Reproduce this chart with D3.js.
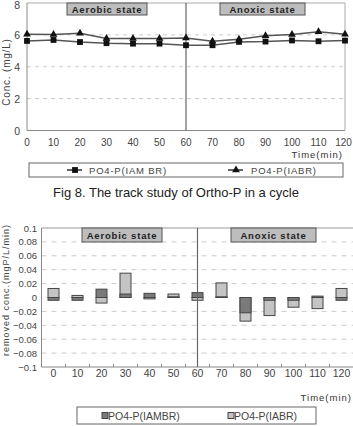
<!DOCTYPE html>
<html>
<head>
<meta charset="utf-8">
<script src="https://cdn.jsdelivr.net/npm/d3@7"></script>
<style>
  body { margin: 0; background: #fff; }
  svg { display: block; font-family: "Liberation Sans", Arial, sans-serif; }
</style>
</head>
<body>
<svg id="chart" width="353" height="426"></svg>
<script>
// sampling times (min)
const times = [0, 10, 20, 30, 40, 50, 60, 70, 80, 90, 100, 110, 120];

// Fig 8 : PO4-P concentration (mg/L)
const iambrConc = [5.62, 5.68, 5.55, 5.48, 5.45, 5.45, 5.35, 5.35, 5.56, 5.58, 5.65, 5.60, 5.64];
const iabrConc  = [6.04, 6.02, 6.10, 5.77, 5.77, 5.77, 5.80, 5.60, 5.73, 5.94, 6.02, 6.19, 6.04];

// lower chart : removed conc. (mgP/L/min)
const iambrRemoved = [-0.004, -0.004, 0.012, 0.005, 0.006, 0.001, 0.007, 0.001, -0.022, -0.004, -0.004, 0.002, -0.004];
const iabrRemoved  = [0.013, 0.003, -0.008, 0.035, -0.002, 0.005, -0.004, 0.021, -0.034, -0.026, -0.014, -0.016, 0.013];

const concTicks = [0, 2, 4, 6, 8];
const removedTicks = [0.1, 0.08, 0.06, 0.04, 0.02, 0, -0.02, -0.04, -0.06, -0.08, -0.1];

const svg = d3.select("#chart");
const axisGrey = "#888";
const textGrey = "#444";

// ---------- top chart ----------
const x1 = d3.scaleLinear().domain([0, 120]).range([27, 345]);
const y1 = d3.scaleLinear().domain([0, 8]).range([130.5, 3]);

const chart1 = svg.append("g");

// dashed grid
chart1.selectAll(".grid1")
	.data(concTicks.filter(d => d > 0 && d < 8))
	.enter().append("line")
	.attr("x1", x1(0)).attr("x2", x1(120))
	.attr("y1", d => y1(d)).attr("y2", d => y1(d))
	.attr("stroke", "#ccc").attr("stroke-dasharray", "4,4");

// frame
chart1.append("line").attr("x1", x1(0)).attr("x2", x1(0)).attr("y1", y1(0)).attr("y2", y1(8)).attr("stroke", axisGrey);
chart1.append("line").attr("x1", x1(0)).attr("x2", x1(120)).attr("y1", y1(0)).attr("y2", y1(0)).attr("stroke", axisGrey);
chart1.append("line").attr("x1", x1(0)).attr("x2", x1(120)).attr("y1", y1(8)).attr("y2", y1(8)).attr("stroke", "#aaa");
chart1.append("line").attr("x1", x1(120)).attr("x2", x1(120)).attr("y1", y1(0)).attr("y2", y1(8)).attr("stroke", "#aaa");
chart1.append("line").attr("x1", x1(60)).attr("x2", x1(60)).attr("y1", y1(0)).attr("y2", y1(8)).attr("stroke", "#666").attr("stroke-width", 1.2);

// y tick labels
chart1.selectAll(".ylab1")
	.data(concTicks)
	.enter().append("text")
	.attr("x", 20).attr("y", d => Math.max(y1(d) + 4, 9))
	.attr("text-anchor", "end")
	.attr("font-size", 10.5).attr("fill", textGrey)
	.text(d => d);

// x tick labels
chart1.selectAll(".xlab1")
	.data(times)
	.enter().append("text")
	.attr("x", d => Math.min(x1(d), 343.5)).attr("y", 146)
	.attr("text-anchor", "middle")
	.attr("font-size", 10).attr("fill", textGrey)
	.text(d => d);

chart1.append("text")
	.attr("x", 343).attr("y", 158)
	.attr("text-anchor", "end")
	.attr("font-size", 9.5).attr("fill", "#333").attr("letter-spacing", 1)
	.text("Time(min)");

chart1.append("text")
	.attr("transform", "translate(10," + 72 + ") rotate(-90)")
	.attr("text-anchor", "middle")
	.attr("font-size", 10).attr("fill", textGrey).attr("letter-spacing", 0.8)
	.text("Conc. (mg/L)");

// lines
const line1 = d3.line().x((d, i) => x1(times[i])).y(d => y1(d));
[iambrConc, iabrConc].forEach(series => {
	chart1.append("path")
		.attr("d", line1(series))
		.attr("fill", "none")
		.attr("stroke", "#555")
		.attr("stroke-width", 1.5);
});

const square = d3.symbol().type(d3.symbolSquare).size(34);
const triangle = d3.symbol().type(d3.symbolTriangle).size(26);

chart1.selectAll(".sq")
	.data(iambrConc)
	.enter().append("path")
	.attr("d", square)
	.attr("transform", (d, i) => "translate(" + x1(times[i]) + "," + y1(d) + ")")
	.attr("fill", "#111");

chart1.selectAll(".tri")
	.data(iabrConc)
	.enter().append("path")
	.attr("d", triangle)
	.attr("transform", (d, i) => "translate(" + x1(times[i]) + "," + y1(d) + ")")
	.attr("fill", "#111");

// state labels
function stateBox(g, x, y, w, h, label) {
	g.append("rect")
		.attr("x", x).attr("y", y).attr("width", w).attr("height", h)
		.attr("fill", "#bdbdbd").attr("stroke", "#555").attr("stroke-width", 1);
	g.append("text")
		.attr("x", x + w / 2).attr("y", y + h / 2 + 3.5)
		.attr("text-anchor", "middle")
		.attr("font-size", 9.5).attr("font-weight", "bold")
		.attr("fill", "#222").attr("letter-spacing", 0.8)
		.text(label);
}
stateBox(chart1, 67, 3, 80, 12, "Aerobic state");
stateBox(chart1, 220, 3, 85, 12, "Anoxic state");

// legend 1
chart1.append("rect")
	.attr("x", 29).attr("y", 163).attr("width", 314).attr("height", 14)
	.attr("fill", "#fff").attr("stroke", "#666");
chart1.append("line").attr("x1", 67).attr("x2", 82).attr("y1", 170).attr("y2", 170).attr("stroke", "#333").attr("stroke-width", 1.5);
chart1.append("path").attr("d", square).attr("transform", "translate(75,170)").attr("fill", "#111");
chart1.append("text").attr("x", 89).attr("y", 173.5)
	.attr("font-size", 9.5).attr("fill", textGrey).attr("letter-spacing", 0.8)
	.text("PO4-P(IAM BR)");
chart1.append("line").attr("x1", 228).attr("x2", 243).attr("y1", 170).attr("y2", 170).attr("stroke", "#333").attr("stroke-width", 1.5);
chart1.append("path").attr("d", triangle).attr("transform", "translate(236,170)").attr("fill", "#111");
chart1.append("text").attr("x", 251).attr("y", 173.5)
	.attr("font-size", 9.5).attr("fill", textGrey).attr("letter-spacing", 0.8)
	.text("PO4-P(IABR)");

// caption
svg.append("text")
	.attr("x", 176).attr("y", 197)
	.attr("text-anchor", "middle")
	.attr("font-size", 13).attr("fill", "#222")
	.text("Fig 8. The track study of Ortho-P in a cycle");

// ---------- bottom chart ----------
const x2 = d3.scaleBand().domain(times).range([41.5, 353.5]);
const y2 = d3.scaleLinear().domain([-0.1, 0.1]).range([367, 228]);
const barW = 11;

const chart2 = svg.append("g");

chart2.selectAll(".grid2")
	.data(removedTicks.filter(d => Math.abs(d) < 0.099 && d !== 0))
	.enter().append("line")
	.attr("x1", x2.range()[0]).attr("x2", 353)
	.attr("y1", d => y2(d)).attr("y2", d => y2(d))
	.attr("stroke", "#ccc").attr("stroke-dasharray", "5,5");

chart2.append("line").attr("x1", 41.5).attr("x2", 41.5).attr("y1", y2(-0.1)).attr("y2", y2(0.1)).attr("stroke", axisGrey);
chart2.append("line").attr("x1", 41.5).attr("x2", 353).attr("y1", y2(0.1)).attr("y2", y2(0.1)).attr("stroke", "#999");
chart2.append("line").attr("x1", 41.5).attr("x2", 353).attr("y1", y2(-0.1)).attr("y2", y2(-0.1)).attr("stroke", axisGrey);

// x ticks at band edges
chart2.selectAll(".xtick2")
	.data(times)
	.enter().append("line")
	.attr("x1", d => x2(d)).attr("x2", d => x2(d))
	.attr("y1", y2(-0.1)).attr("y2", y2(-0.1) - 3)
	.attr("stroke", axisGrey);

chart2.selectAll(".ylab2")
	.data(removedTicks)
	.enter().append("text")
	.attr("x", 37).attr("y", d => y2(d) + 3.5)
	.attr("text-anchor", "end")
	.attr("font-size", 9.5).attr("fill", textGrey)
	.text(d => d3.format("")(d).replace("-", "\u2212"));

chart2.selectAll(".xlab2")
	.data(times)
	.enter().append("text")
	.attr("x", d => x2(d) + x2.bandwidth() / 2).attr("y", 377)
	.attr("text-anchor", "middle")
	.attr("font-size", 10.5).attr("fill", textGrey)
	.text(d => d);

chart2.append("text")
	.attr("x", 352).attr("y", 401)
	.attr("text-anchor", "end")
	.attr("font-size", 9.5).attr("fill", "#333").attr("letter-spacing", 1)
	.text("Time(min)");

chart2.append("text")
	.attr("transform", "translate(8.5," + 290 + ") rotate(-90)")
	.attr("text-anchor", "middle")
	.attr("font-size", 9).attr("fill", textGrey).attr("letter-spacing", 1)
	.text("removed conc.(mgP/L/min)");

// bars: IABR behind, IAMBR in front
function drawBars(series, fill) {
	chart2.selectAll(null)
		.data(series)
		.enter().append("rect")
		.attr("x", (d, i) => x2(times[i]) + (x2.bandwidth() - barW) / 2)
		.attr("width", barW)
		.attr("y", d => y2(Math.max(0, d)))
		.attr("height", d => Math.abs(y2(d) - y2(0)))
		.attr("fill", fill)
		.attr("stroke", "#444")
		.attr("stroke-width", 1);
}
drawBars(iabrRemoved, "#c4c4c4");
drawBars(iambrRemoved, "#7a7a7a");

chart2.append("line")
	.attr("x1", x2(60) + x2.bandwidth() / 2).attr("x2", x2(60) + x2.bandwidth() / 2)
	.attr("y1", y2(-0.1)).attr("y2", y2(0.1))
	.attr("stroke", "#666").attr("stroke-width", 1.2);

stateBox(chart2, 82, 228, 80, 14, "Aerobic state");
stateBox(chart2, 231, 228, 85, 14, "Anoxic state");

// legend 2
chart2.append("rect")
	.attr("x", 77).attr("y", 407).attr("width", 239).attr("height", 17)
	.attr("fill", "#fff").attr("stroke", "#666");
chart2.append("rect").attr("x", 102).attr("y", 412.5).attr("width", 6).attr("height", 6)
	.attr("fill", "#7a7a7a").attr("stroke", "#444");
chart2.append("text").attr("x", 108).attr("y", 420)
	.attr("font-size", 10.5).attr("fill", textGrey)
	.text("PO4-P(IAMBR)");
chart2.append("rect").attr("x", 228).attr("y", 412.5).attr("width", 6).attr("height", 6)
	.attr("fill", "#c4c4c4").attr("stroke", "#444");
chart2.append("text").attr("x", 234).attr("y", 420)
	.attr("font-size", 10.5).attr("fill", textGrey)
	.text("PO4-P(IABR)");
</script>
</body>
</html>
